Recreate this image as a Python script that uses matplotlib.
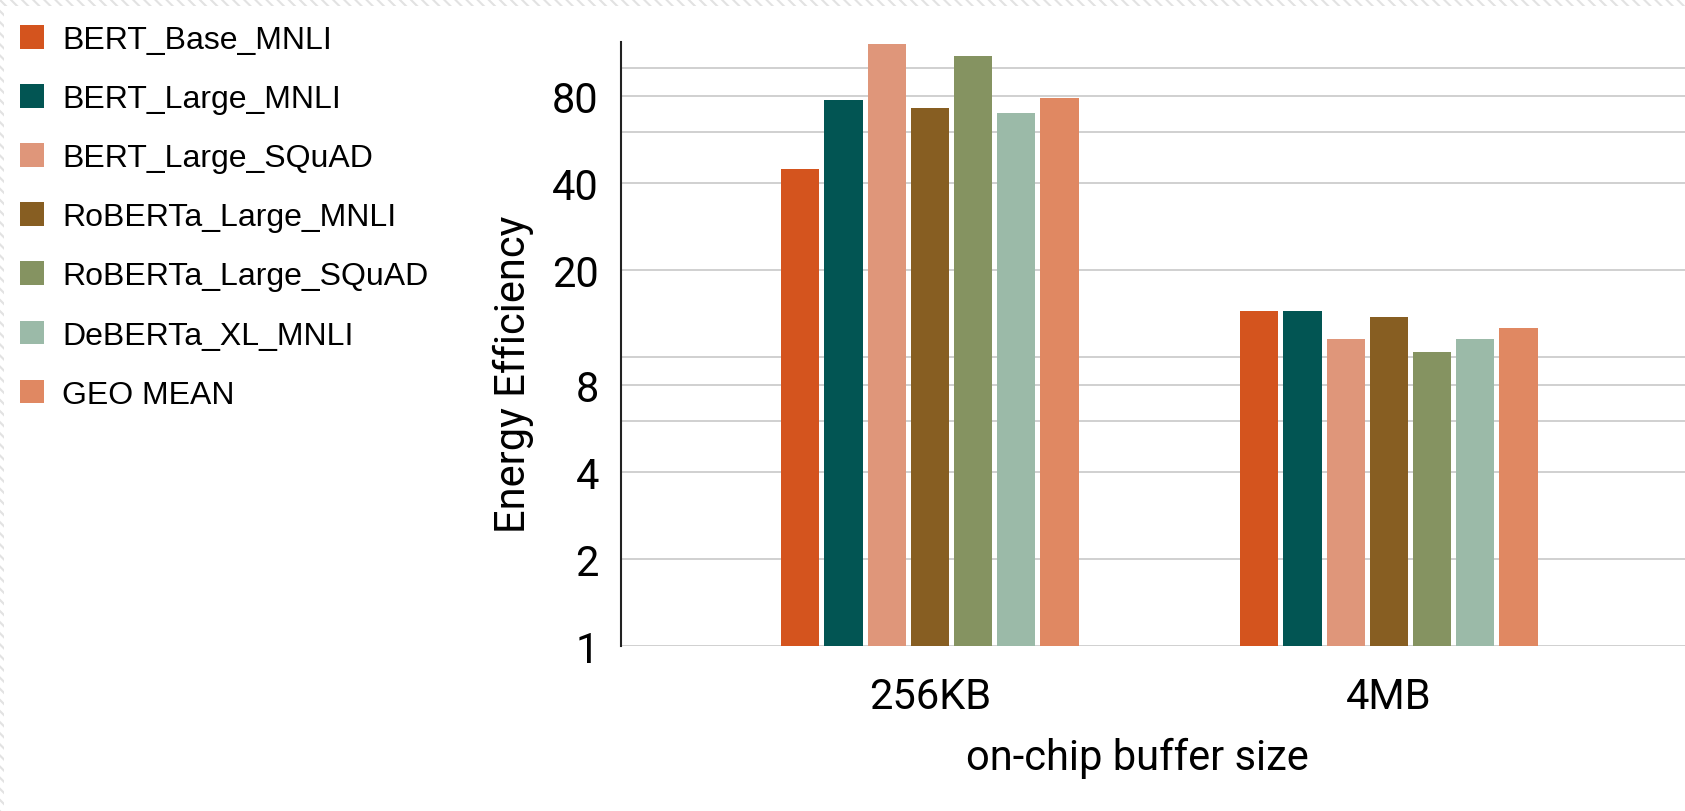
import matplotlib
matplotlib.use("Agg")
import matplotlib.pyplot as plt
import matplotlib.ticker as mticker
from matplotlib.patches import Rectangle
import numpy as np

# Data
buffer_sizes = ["256KB", "4MB"]
models = [
    "BERT_Base_MNLI",
    "BERT_Large_MNLI",
    "BERT_Large_SQuAD",
    "RoBERTa_Large_MNLI",
    "RoBERTa_Large_SQuAD",
    "DeBERTa_XL_MNLI",
    "GEO MEAN",
]
bert_base_mnli = [44.5, 14.4]
bert_large_mnli = [77.5, 14.4]
bert_large_squad = [121.0, 11.5]
roberta_large_mnli = [72.4, 13.7]
roberta_large_squad = [109.5, 10.4]
deberta_xl_mnli = [69.9, 11.5]
geo_mean = [78.6, 12.55]

series = [bert_base_mnli, bert_large_mnli, bert_large_squad,
          roberta_large_mnli, roberta_large_squad, deberta_xl_mnli, geo_mean]
colors = ["#D4541E", "#025553", "#DF967A", "#875E22",
          "#859361", "#9BBAA8", "#E08862"]

y_ticks = [1, 2, 4, 8, 20, 40, 80]
y_grid = [1, 2, 4, 6, 8, 10, 20, 40, 60, 80, 100]

W, H, DPI = 1685, 812, 100
fig = plt.figure(figsize=(W / DPI, H / DPI), dpi=DPI)
fig.patch.set_facecolor("white")

ax_left, ax_right = 621 / W, 1.0
ax_bottom, ax_top = 1 - 646.7 / H, 1 - 43.3 / H
ax = fig.add_axes([ax_left, ax_bottom, ax_right - ax_left, ax_top - ax_bottom])

x = np.arange(len(buffer_sizes))
slot = 0.0941
width = 0.0834
handles = []
for i, (vals, col) in enumerate(zip(series, colors)):
    b = ax.bar(x + (i - 3) * slot, vals, width=width, color=col,
               label=models[i], zorder=3, linewidth=0)
    handles.append(b)

ax.set_yscale("log")
ax.set_ylim(1, 122.3)
ax.set_xlim(-0.673, 1.645)

ax.yaxis.set_major_locator(mticker.FixedLocator(y_ticks))
ax.yaxis.set_major_formatter(mticker.FixedFormatter([str(t) for t in y_ticks]))
ax.yaxis.set_minor_locator(mticker.NullLocator())
for g in y_grid:
    ax.axhline(g, color="#d0d0d0", linewidth=1.4, zorder=1)

ax.set_xticks(x)
ax.set_xticklabels(buffer_sizes)

tick_font = dict(family="Roboto", size=30)
for lab in ax.get_xticklabels() + ax.get_yticklabels():
    lab.set_fontfamily("Roboto")
    lab.set_fontsize(30)
ax.tick_params(axis="both", length=0)
ax.tick_params(axis="y", pad=16)
ax.tick_params(axis="x", pad=22)

for s in ["top", "right", "bottom"]:
    ax.spines[s].set_visible(False)
ax.spines["left"].set_color("#222222")
ax.spines["left"].set_linewidth(1.5)
ax.spines["left"].set_zorder(4)

ax.set_ylabel("Energy Efficiency", fontdict=tick_font)
ax.yaxis.set_label_coords(-0.0816, 0.451)
ax.yaxis.label.set_va("bottom")
ax.set_xlabel("on-chip buffer size", fontdict=tick_font)
ax.xaxis.set_label_coords(0.485, -0.1506)
ax.xaxis.label.set_va("top")

fig.legend(handles=handles, labels=models, loc="upper left",
           bbox_to_anchor=(19.5 / W, 1 - 26 / H),
           frameon=False, prop=dict(family="Liberation Sans", size=23),
           handlelength=0.77, handleheight=0.77, handletextpad=0.56,
           labelspacing=0.91, borderpad=0, borderaxespad=0)

# light hatched border along the top and left edges
plt.rcParams["hatch.linewidth"] = 1.5
fig.patches.append(Rectangle((0, 1 - 7 / H), 1, 7 / H, transform=fig.transFigure,
                             facecolor="white", edgecolor="#e2e2e2", hatch="\\\\\\",
                             linewidth=0, zorder=0))
fig.patches.append(Rectangle((0, 0), 4 / W, 1, transform=fig.transFigure,
                             facecolor="white", edgecolor="#e2e2e2", hatch="\\\\\\",
                             linewidth=0, zorder=0))

fig.savefig("out.png", dpi=DPI)
